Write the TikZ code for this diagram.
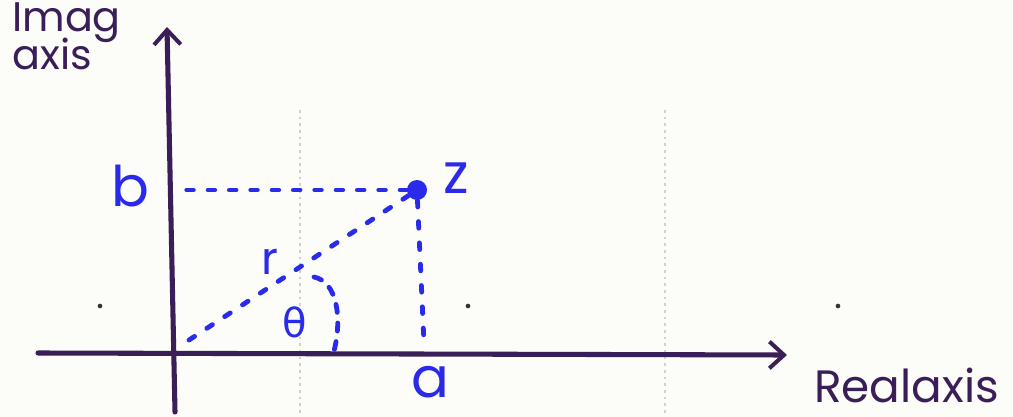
\documentclass[tikz,border=0pt]{standalone}
\usepackage{fontspec}
\setmainfont{Poppins}
\newfontfamily\greekfont{DejaVu Sans}
\usetikzlibrary{arrows.meta}
\definecolor{ink}{RGB}{58,30,88}
\definecolor{pen}{RGB}{42,42,235}
\definecolor{paper}{RGB}{252,252,248}
\definecolor{gridgray}{RGB}{210,210,200}
\tikzset{
  axisline/.style={ink, line width=3.8pt, line cap=round},
  axishead/.style={-{Straight Barb[length=11pt,width=20pt,line width=3pt]}},
  dashline/.style={pen, line width=3.6pt, line cap=round, dash pattern=on 5pt off 11pt},
  bluelabel/.style={pen, font=\fontsize{42}{42}\selectfont, inner sep=0pt},
  inklabel/.style={ink, font=\fontsize{31}{28}\selectfont, inner sep=0pt, align=left},
  gridline/.style={gridgray, line width=1.2pt, dash pattern=on 2pt off 3pt},
  papermark/.style={fill=black!80, inner sep=0pt, minimum size=3.5pt, circle},
}
\begin{document}
\begin{tikzpicture}[x=0.75pt,y=-0.75pt]
\useasboundingbox[fill=paper] (0,0) rectangle (1013,417);
% faint paper grid
\draw[gridline] (300,110) -- (300,417);
\draw[gridline] (665,110) -- (665,417);
\node[papermark] (m1) at (100,306) {};
\node[papermark] (m2) at (468,306) {};
\node[papermark] (m3) at (838,306) {};
% axes
\coordinate (xs) at (38,353);
\coordinate (xe) at (787,355);
\coordinate (ys) at (175,412);
\coordinate (ye) at (167,27);
\coordinate (O) at (173,353);
\draw[axisline, axishead] (xs) -- (xe);
\draw[axisline, axishead] (ys) -- (ye);
% point z
\node[circle, fill=pen, minimum size=15pt, inner sep=0pt] (Z) at (417,190) {};
\node[bluelabel] (zl) at (456,178) {z};
\node[bluelabel] (bl) at (130,186) {b};
\node[bluelabel] (al) at (430,382) {a};
\node[bluelabel, font=\fontsize{34}{34}\selectfont] (rl) at (270,262) {r};
\node[pen, inner sep=0pt, font=\fontsize{30}{30}\selectfont\greekfont] (tl) at (295,322) {θ};
\coordinate (bf) at (178,190);
\coordinate (af) at (424,343);
\coordinate (of) at (180,346);
\draw[dashline] (Z) -- (bf);
\draw[dashline] (Z) -- (af);
\draw[dashline] (Z) -- (of);
\coordinate (arcS) at (314,277);
\coordinate (arcE) at (334,351);
\draw[dashline, dash pattern=on 6pt off 8pt] (arcS) .. controls (338,282) and (342,320) .. (arcE);
% axis labels
\node[inklabel, anchor=north west] (imag) at (12,2) {Imag\\[-4pt]axis};
\node[ink, font=\fontsize{34}{34}\selectfont, inner sep=0pt, anchor=base west] (real) at (814,402) {Realaxis};
\end{tikzpicture}
\end{document}
